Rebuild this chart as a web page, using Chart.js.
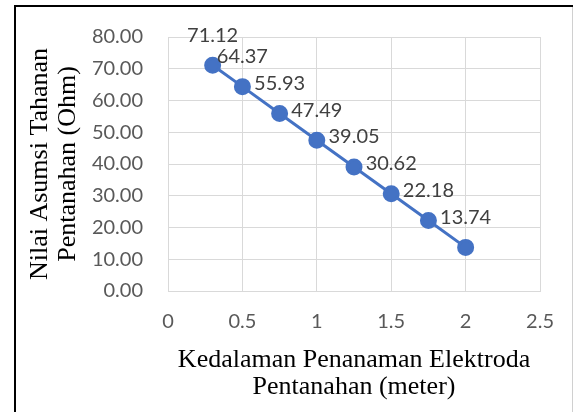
<!DOCTYPE html>
<html>
<head>
<meta charset="utf-8">
<script src="https://cdn.jsdelivr.net/npm/chart.js@4/dist/chart.umd.min.js"></script>
<style>
  html, body { margin: 0; padding: 0; background: #fff; }
  #wrap { width: 573px; height: 412px; }
</style>
</head>
<body>
<div id="wrap"><canvas id="chart" width="573" height="412"></canvas></div>
<script>
// Data
const depths = [0.3, 0.5, 0.75, 1, 1.25, 1.5, 1.75, 2];
const resistance = [71.12, 64.37, 55.93, 47.49, 39.05, 30.62, 22.18, 13.74];
const xTicks = [0, 0.5, 1, 1.5, 2, 2.5];
const yTicks = [0, 10, 20, 30, 40, 50, 60, 70, 80];
const xTitle = ['Kedalaman Penanaman Elektroda', 'Pentanahan (meter)'];
const yTitle = ['Nilai Asumsi Tahanan', 'Pentanahan (Ohm)'];

const BLUE = '#4472C4';
const GRID = '#D9D9D9';
const tickFont = { family: 'Lato, "Open Sans", sans-serif', size: 20 };
const titleFont = { family: '"Liberation Serif", "Times New Roman", serif', size: 26, lineHeight: 1.05 };

// outer frame like the Word figure box
const framePlugin = {
  id: 'frame',
  afterDraw(chart) {
    const ctx = chart.ctx;
    ctx.save();
    ctx.strokeStyle = '#000';
    ctx.lineWidth = 2;
    ctx.beginPath();
    ctx.moveTo(15, 412);
    ctx.lineTo(15, 6);
    ctx.lineTo(573, 6);
    ctx.stroke();
    ctx.strokeStyle = '#D0D0D0';
    ctx.lineWidth = 1;
    ctx.beginPath();
    ctx.moveTo(572.5, 7);
    ctx.lineTo(572.5, 412);
    ctx.stroke();
    ctx.restore();
  }
};

// value labels above each point
const labelPlugin = {
  id: 'valueLabels',
  afterDatasetsDraw(chart) {
    const ctx = chart.ctx;
    const meta = chart.getDatasetMeta(0);
    ctx.save();
    ctx.font = tickFont.size + 'px ' + tickFont.family;
    ctx.fillStyle = '#404040';
    ctx.textAlign = 'center';
    ctx.textBaseline = 'middle';
    meta.data.forEach((pt, i) => {
      ctx.fillText(resistance[i].toFixed(2), pt.x, pt.y - 30);
    });
    ctx.restore();
  }
};

new Chart(document.getElementById('chart'), {
  type: 'line',
  data: {
    datasets: [{
      data: depths.map((d, i) => ({ x: d, y: resistance[i] })),
      borderColor: BLUE,
      backgroundColor: BLUE,
      borderWidth: 3,
      pointRadius: 7,
      pointHoverRadius: 7,
      pointBackgroundColor: BLUE,
      pointBorderColor: BLUE,
      tension: 0
    }]
  },
  options: {
    responsive: false,
    animation: false,
    devicePixelRatio: 1,
    layout: { padding: { left: 20, top: 36, right: 30, bottom: 11 } },
    plugins: { legend: { display: false }, tooltip: { enabled: false } },
    scales: {
      x: {
        type: 'linear',
        min: xTicks[0],
        max: xTicks[xTicks.length - 1],
        afterBuildTicks: s => { s.ticks = xTicks.map(v => ({ value: v })); },
        afterFit: s => { s.height = 110; },
        grid: { color: GRID, lineWidth: 1, drawTicks: false },
        border: { color: GRID, width: 1 },
        ticks: { color: '#595959', font: tickFont, padding: 19, maxRotation: 0,
          callback: v => String(v) },
        title: { display: true, text: xTitle, color: '#000', font: titleFont, padding: { top: 0, bottom: 0 } }
      },
      y: {
        min: yTicks[0],
        max: yTicks[yTicks.length - 1],
        afterBuildTicks: s => { s.ticks = yTicks.map(v => ({ value: v })); },
        afterFit: s => { s.width = 148; },
        grid: { color: GRID, lineWidth: 1, drawTicks: false },
        border: { color: GRID, width: 1 },
        ticks: { color: '#595959', font: tickFont, padding: 25,
          callback: v => v.toFixed(2) },
        title: { display: true, text: yTitle, color: '#000', font: titleFont, padding: { top: 7, bottom: 0 } }
      }
    }
  },
  plugins: [framePlugin, labelPlugin]
});
</script>
</body>
</html>
